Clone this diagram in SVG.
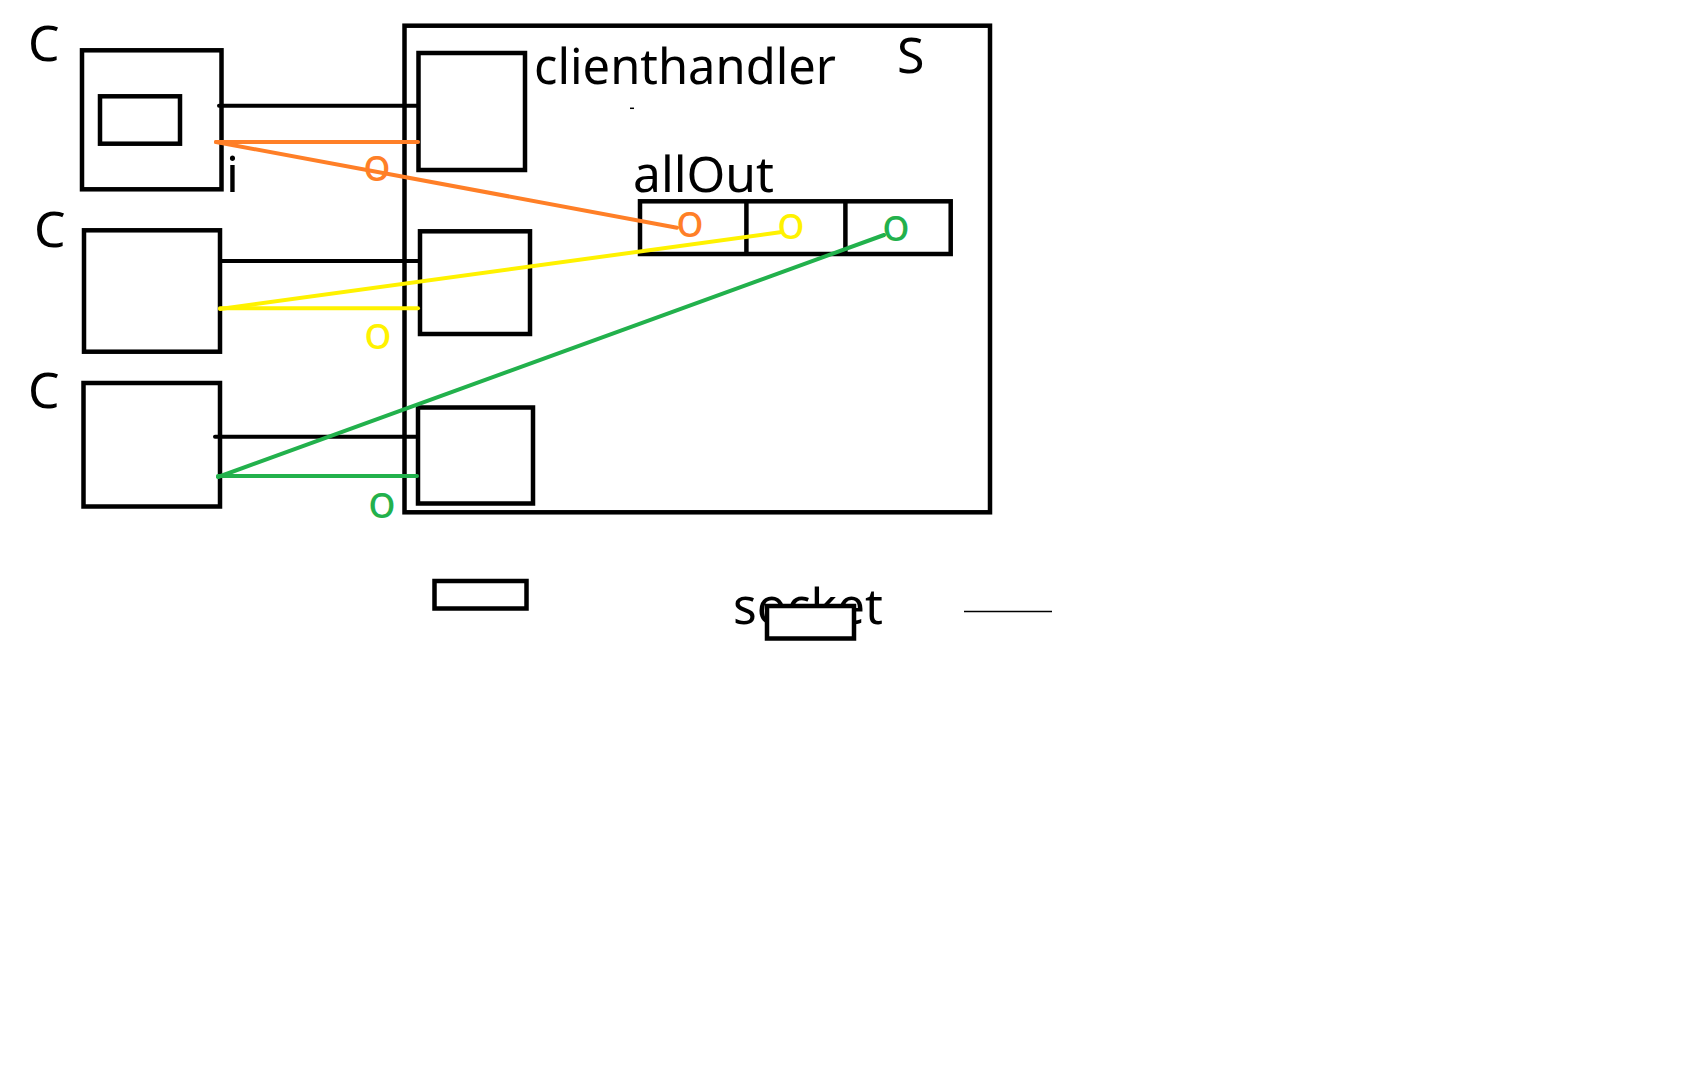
<svg xmlns="http://www.w3.org/2000/svg" width="1686" height="1076" viewBox="0 0 1686 1076">
<style>
.box{fill:none;stroke:#000;stroke-width:4.5}
.t{font-family:"Noto Sans","Open Sans","DejaVu Sans",sans-serif;font-size:50px;fill:#000}
.o{font-family:"Noto Sans","Open Sans","DejaVu Sans",sans-serif;font-size:46px}
.ln{stroke-width:4;stroke-linecap:round;fill:none}
.k{stroke:#000}
.or{stroke:#FF7F27}
.ye{stroke:#FFF200}
.gr{stroke:#22B14C}
</style>
<rect width="1686" height="1076" fill="#fff"/>
<g id="server">
<rect class="box" x="404.5" y="25.7" width="585.5" height="486.6"/>
<text class="t" x="897" y="72.5">S</text>
<text class="t" x="534" y="84" textLength="302" lengthAdjust="spacingAndGlyphs">clienthandler</text>
<line x1="630" y1="108.3" x2="634" y2="108.3" stroke="#000" stroke-width="1.5"/>
</g>
<g id="client1">
<rect class="box" x="82" y="50.3" width="139.5" height="139"/>
<rect class="box" x="100" y="96.3" width="80" height="47.4"/>
<text class="t" x="28" y="60.5">C</text>
<text class="t" x="226" y="192.3">i</text>
</g>
<g id="client2">
<rect class="box" x="84" y="230.3" width="136" height="121.4"/>
<text class="t" x="34" y="246.5">C</text>
</g>
<g id="client3">
<rect class="box" x="83.5" y="383" width="136.5" height="123.5"/>
<text class="t" x="28" y="407.5">C</text>
</g>
<g id="handler1"><rect class="box" x="418.5" y="53" width="106.5" height="117"/></g>
<g id="handler2"><rect class="box" x="420" y="231.3" width="110" height="102.7"/></g>
<g id="handler3"><rect class="box" x="418" y="407.5" width="115" height="96"/></g>
<g id="allOut">
<text class="t" x="633" y="192.3" textLength="141" lengthAdjust="spacingAndGlyphs">allOut</text>
<rect class="box" x="640" y="201.3" width="310.7" height="52.7"/>
<line x1="746.4" y1="201.3" x2="746.4" y2="254" stroke="#000" stroke-width="4.5"/>
<line x1="845.4" y1="201.3" x2="845.4" y2="254" stroke="#000" stroke-width="4.5"/>
</g>
<g id="misc">
<rect class="box" x="434.5" y="581" width="92" height="27.5"/>
<text class="t" x="733" y="624" textLength="150" lengthAdjust="spacingAndGlyphs">socket</text>
<rect x="767" y="606" width="87" height="32.5" fill="#fff" stroke="#000" stroke-width="4.5"/>
<line x1="964" y1="611.5" x2="1052" y2="611.5" stroke="#000" stroke-width="1.5"/>
</g>
<g id="connectors">
<line class="ln k" x1="219" y1="105.7" x2="418" y2="105.7"/>
<line class="ln or" x1="216" y1="142" x2="418" y2="142"/>
<line class="ln or" x1="216" y1="142" x2="677" y2="227.7"/>
<line class="ln k" x1="220" y1="261" x2="418" y2="261"/>
<line class="ln ye" x1="220" y1="308.3" x2="418" y2="308.3"/>
<line class="ln ye" x1="220" y1="309" x2="780" y2="232.3"/>
<line class="ln k" x1="215" y1="436.7" x2="417" y2="436.7"/>
<line class="ln gr" x1="218" y1="476" x2="417" y2="476"/>
<line class="ln gr" x1="218" y1="477" x2="884" y2="235"/>
</g>
<g id="labels">
<text class="o" x="363" y="181" fill="#FF7F27">o</text>
<text class="o" x="676" y="237" fill="#FF7F27">o</text>
<text class="o" x="364" y="349" fill="#FFF200">o</text>
<text class="o" x="777" y="238.5" fill="#FFF200">o</text>
<text class="o" x="368" y="518" fill="#22B14C">o</text>
<text class="o" x="882" y="240.5" fill="#22B14C">o</text>
</g>
</svg>
